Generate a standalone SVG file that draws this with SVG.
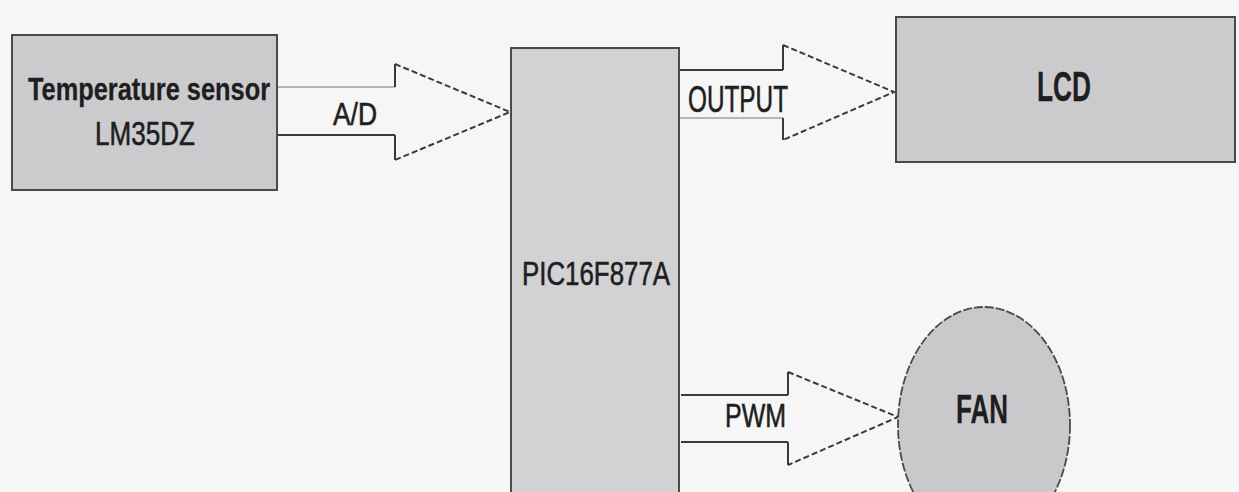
<svg xmlns="http://www.w3.org/2000/svg" width="1239" height="492" viewBox="0 0 1239 492">
  <style>
    .box { fill: #cbcbcd; stroke: #4a4a4a; stroke-width: 2; }
    .lbl { font-family: "Liberation Sans", Arial, sans-serif; fill: #1e1e1e; stroke: #1e1e1e; stroke-width: 0.6; }
    .b { font-weight: bold; stroke-width: 0.3; }
    .shaft { stroke: #3a3a3a; stroke-width: 2; fill: none; }
    .faint { stroke: #b5b5b5; stroke-width: 2; fill: none; }
    .head { stroke: #3a3a3a; stroke-width: 2; fill: none; stroke-dasharray: 6 3; }
  </style>
  <rect x="0" y="0" width="1239" height="492" fill="#f6f6f6"/>

  <g id="connectors">
    <g id="arrow-ad">
      <line class="faint" x1="277" y1="87" x2="395" y2="87"/>
      <line class="shaft" x1="277" y1="135" x2="395" y2="135"/>
      <polyline class="shaft" points="395,87 395,64"/>
      <polyline class="shaft" points="395,135 395,160"/>
      <polyline class="head" points="395,64 510,112 395,160"/>
    </g>
    <g id="arrow-output">
      <line class="shaft" x1="679" y1="70" x2="783" y2="70"/>
      <line class="faint" x1="679" y1="118" x2="783" y2="118"/>
      <polyline class="shaft" points="783,70 783,45"/>
      <polyline class="shaft" points="783,118 783,140"/>
      <polyline class="head" points="783,45 894,92 783,140"/>
    </g>
    <g id="arrow-pwm">
      <line class="shaft" x1="681" y1="395" x2="788" y2="395"/>
      <line class="shaft" x1="681" y1="442" x2="788" y2="442"/>
      <polyline class="shaft" points="788,395 788,372"/>
      <polyline class="shaft" points="788,442 788,465"/>
      <polyline class="head" points="788,372 898,417 788,465"/>
    </g>
  </g>

  <g id="sensor">
    <rect class="box" x="12" y="35" width="265" height="155"/>
    <text class="lbl b" x="28" y="100" font-size="32" textLength="242" lengthAdjust="spacingAndGlyphs">Temperature sensor</text>
    <text class="lbl" x="95" y="145" font-size="33" textLength="100" lengthAdjust="spacingAndGlyphs">LM35DZ</text>
  </g>

  <g id="ad-label">
    <text class="lbl" x="333" y="125" font-size="31" textLength="44" lengthAdjust="spacingAndGlyphs">A/D</text>
  </g>

  <g id="pic">
    <rect class="box" x="511" y="48" width="168" height="460" style="fill:#d2d2d4"/>
    <text class="lbl" x="522" y="285" font-size="34" textLength="148" lengthAdjust="spacingAndGlyphs">PIC16F877A</text>
  </g>

  <g id="output-label">
    <text class="lbl" x="688" y="112" font-size="37" textLength="100" lengthAdjust="spacingAndGlyphs">OUTPUT</text>
  </g>

  <g id="lcd">
    <rect class="box" x="896" y="17" width="339" height="145"/>
    <text class="lbl b" x="1037" y="101" font-size="42" textLength="54" lengthAdjust="spacingAndGlyphs">LCD</text>
  </g>

  <g id="pwm-label">
    <text class="lbl" x="725" y="427" font-size="33" textLength="61" lengthAdjust="spacingAndGlyphs">PWM</text>
  </g>

  <g id="fan">
    <ellipse cx="984" cy="425" rx="86" ry="118" fill="#c9c9cb" stroke="#4a4a4a" stroke-width="1.8" stroke-dasharray="9 2"/>
    <text class="lbl b" x="956" y="423" font-size="41" textLength="52" lengthAdjust="spacingAndGlyphs">FAN</text>
  </g>
</svg>
